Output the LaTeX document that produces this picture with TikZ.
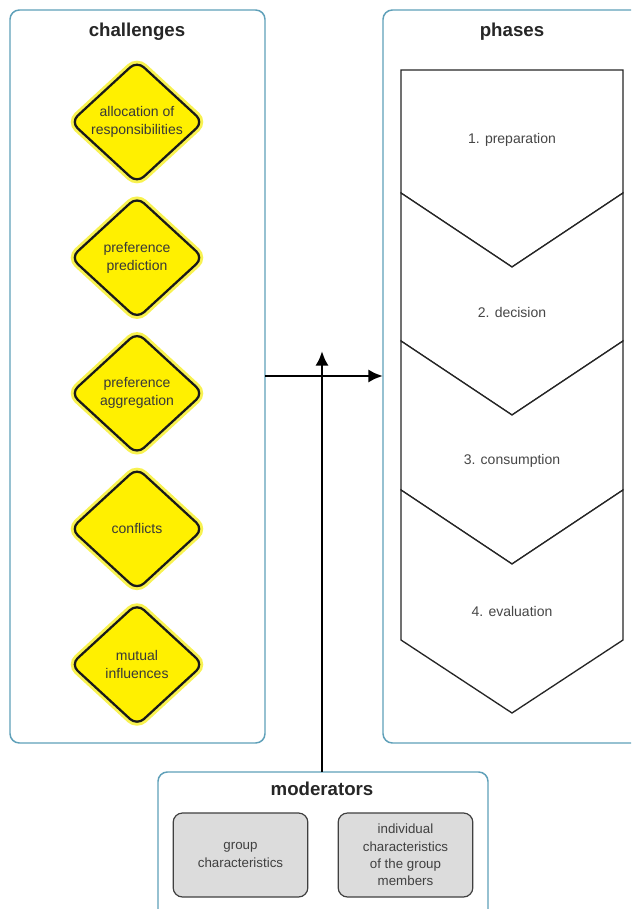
\documentclass[tikz,border=0pt]{standalone}
\usepackage{fontspec}
\setmainfont{Liberation Sans}
\usepackage{tikz}
\usetikzlibrary{arrows.meta, positioning, shapes.geometric}

\definecolor{framecol}{RGB}{95,160,185}
\definecolor{signyellow}{RGB}{255,240,0}
\definecolor{glowyellow}{RGB}{248,242,80}
\definecolor{greybox}{RGB}{220,220,220}
\definecolor{phasetext}{RGB}{70,70,70}

\begin{document}
\begin{tikzpicture}[
x=0.75pt, y=-0.75pt,
node distance=8pt,
frame/.style={draw=framecol, line width=1.1pt, rounded corners=7pt, fill=white},
title/.style={font=\fontsize{14}{16}\selectfont\bfseries, text=black!85},
sign/.style={diamond, draw=black!90, line width=1.7pt, rounded corners=7pt, fill=signyellow,
  preaction={draw=glowyellow, line width=6pt},
  minimum width=100pt, minimum height=92pt, inner sep=0pt, align=center,
  font=\fontsize{10.5}{13.5}\selectfont, text=black!78},
chevron/.style={draw=black!85, line width=1pt, fill=white},
phaselabel/.style={font=\fontsize{10.5}{12}\selectfont, text=phasetext},
modbox/.style={draw=black!75, line width=0.9pt, rounded corners=7pt, fill=greybox,
  minimum width=101pt, minimum height=63pt, align=center,
  font=\fontsize{10}{13}\selectfont, text=black!75},
flow/.style={-{Latex[length=11pt, width=10pt]}, line width=2.2pt}
]

\clip (0,0) rectangle (631,909);
\fill[white] (0,0) rectangle (631,909);

% containers
\draw[frame] (10,10) rectangle (265,743);
\draw[frame] (383,10) rectangle (650,743);
\draw[frame] (158,772) rectangle (488,930);

\node[title] (challenges) at (137,32) {challenges};
\node[title] (phases) at (512,32) {phases};
\node[title] (moderators) at (322,789) {moderators};

% challenges
\node[sign] (alloc) at (137,122) {allocation of\\responsibilities};
\node[sign, below=of alloc] (predict) {preference\\prediction};
\node[sign, below=of predict] (aggreg) {preference\\aggregation};
\node[sign, below=of aggreg] (confl) {conflicts};
\node[sign, below=of confl] (mutual) {mutual\\influences};

% phases
\draw[chevron] (401,70) -- (623,70) -- (623,193) -- (512,267) -- (401,193) -- cycle;
\draw[chevron] (401,193) -- (512,267) -- (623,193) -- (623,341) -- (512,415) -- (401,341) -- cycle;
\draw[chevron] (401,341) -- (512,415) -- (623,341) -- (623,490) -- (512,564) -- (401,490) -- cycle;
\draw[chevron] (401,490) -- (512,564) -- (623,490) -- (623,640) -- (512,713) -- (401,640) -- cycle;

\node[phaselabel] (prep) at (512,140) {1. preparation};
\node[phaselabel] (decis) at (512,312) {2. decision};
\node[phaselabel] (consum) at (512,461) {3. consumption};
\node[phaselabel] (evalu) at (512,611) {4. evaluation};

% moderators
\node[modbox] (group) at (240.5,855) {group\\characteristics};
\node[modbox] (indiv) at (405.5,855) {individual\\characteristics\\of the group\\members};

% connectors
\coordinate (chalout) at (265,376);
\coordinate (phasein) at (383,376);
\coordinate (modout) at (322,772);
\coordinate (joint) at (322,351);
\draw[flow] (chalout) -- (phasein);
\draw[flow] (modout) -- (joint);

\end{tikzpicture}
\end{document}
